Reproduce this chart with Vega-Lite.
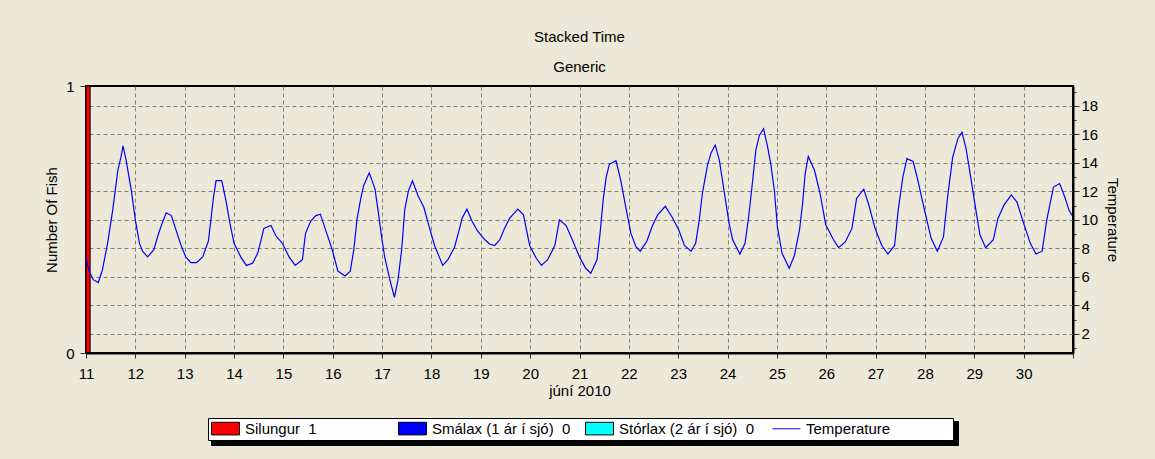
{
  "$schema": "https://vega.github.io/schema/vega-lite/v6.json",
  "width": 987,
  "height": 267,
  "autosize": {"type": "none"},
  "padding": {"left": 86, "top": 86, "right": 82, "bottom": 106},
  "background": "#ECE9D8",
  "title": {
    "text": "Stacked Time",
    "subtitle": "Generic",
    "anchor": "middle",
    "font": "Liberation Sans",
    "fontSize": 15,
    "fontWeight": "normal",
    "color": "black",
    "subtitleFont": "Liberation Sans",
    "subtitleFontSize": 15,
    "subtitleColor": "black",
    "subtitlePadding": 15,
    "offset": 4
  },
  "config": {
    "view": {"stroke": "black", "strokeWidth": 2, "fill": "#ECE9D8"},
    "font": "Liberation Sans",
    "axis": {
      "labelFont": "Liberation Sans",
      "labelFontSize": 15,
      "labelColor": "black",
      "titleFont": "Liberation Sans",
      "titleFontSize": 15,
      "titleFontWeight": "normal",
      "titleColor": "black",
      "domainColor": "black",
      "domainWidth": 2,
      "tickColor": "#333333",
      "gridColor": "#808080",
      "gridDash": [4, 3],
      "gridWidth": 1
    },
    "legend": {
      "orient": "none",
      "legendX": 122,
      "legendY": 332,
      "direction": "horizontal",
      "columns": 4,
      "gridAlign": "all",
      "fillColor": "white",
      "strokeColor": "black",
      "padding": 3,
      "columnPadding": 12,
      "labelFont": "Liberation Sans",
      "labelFontSize": 15,
      "labelColor": "black",
      "labelOffset": 19,
      "symbolSize": 196,
      "symbolStrokeWidth": 1,
      "symbolOpacity": 1
    }
  },
  "datasets": {
    "fish": [
      {"start": "2010-06-11T00:00", "end": "2010-06-11T02:00", "species": "Silungur", "count": 1},
      {"start": "2010-06-11T00:00", "end": "2010-06-11T02:00", "species": "Smálax (1 ár í sjó)", "count": 0},
      {"start": "2010-06-11T00:00", "end": "2010-06-11T02:00", "species": "Stórlax (2 ár í sjó)", "count": 0}
    ],
    "legendKeys": [
      {"series": "Silungur", "key": "Silungur"},
      {"series": "Smálax (1 ár í sjó)", "key": "Smálax (1 ár í sjó)"},
      {"series": "Stórlax (2 ár í sjó)", "key": "Stórlax (2 ár í sjó)"},
      {"series": "Temperature", "key": "Temperature"}
    ],
    "temp": [
      {"time": "2010-06-11T00:00", "temperature": 7.3},
      {"time": "2010-06-11T01:30", "temperature": 6.4},
      {"time": "2010-06-11T03:30", "temperature": 5.8},
      {"time": "2010-06-11T06:00", "temperature": 5.6},
      {"time": "2010-06-11T08:00", "temperature": 6.5},
      {"time": "2010-06-11T10:30", "temperature": 8.35},
      {"time": "2010-06-11T13:00", "temperature": 10.7},
      {"time": "2010-06-11T15:30", "temperature": 13.5},
      {"time": "2010-06-11T17:00", "temperature": 14.4},
      {"time": "2010-06-11T18:00", "temperature": 15.2},
      {"time": "2010-06-11T19:30", "temperature": 14.2},
      {"time": "2010-06-11T22:00", "temperature": 12.1},
      {"time": "2010-06-12T00:00", "temperature": 10.0},
      {"time": "2010-06-12T02:00", "temperature": 8.35},
      {"time": "2010-06-12T03:30", "temperature": 7.8},
      {"time": "2010-06-12T06:00", "temperature": 7.4},
      {"time": "2010-06-12T09:00", "temperature": 7.9},
      {"time": "2010-06-12T11:00", "temperature": 8.9},
      {"time": "2010-06-12T13:00", "temperature": 9.75},
      {"time": "2010-06-12T15:00", "temperature": 10.5},
      {"time": "2010-06-12T17:30", "temperature": 10.3},
      {"time": "2010-06-12T19:45", "temperature": 9.3},
      {"time": "2010-06-12T22:15", "temperature": 8.2},
      {"time": "2010-06-13T00:30", "temperature": 7.4},
      {"time": "2010-06-13T03:00", "temperature": 7.0},
      {"time": "2010-06-13T05:45", "temperature": 7.0},
      {"time": "2010-06-13T08:45", "temperature": 7.4},
      {"time": "2010-06-13T11:30", "temperature": 8.5},
      {"time": "2010-06-13T12:45", "temperature": 10.0},
      {"time": "2010-06-13T14:00", "temperature": 11.6},
      {"time": "2010-06-13T15:15", "temperature": 12.75},
      {"time": "2010-06-13T18:00", "temperature": 12.75},
      {"time": "2010-06-13T20:00", "temperature": 11.4},
      {"time": "2010-06-13T22:00", "temperature": 9.75},
      {"time": "2010-06-14T00:00", "temperature": 8.35},
      {"time": "2010-06-14T03:15", "temperature": 7.4},
      {"time": "2010-06-14T06:00", "temperature": 6.8},
      {"time": "2010-06-14T09:00", "temperature": 6.95},
      {"time": "2010-06-14T11:30", "temperature": 7.65},
      {"time": "2010-06-14T13:00", "temperature": 8.5},
      {"time": "2010-06-14T14:30", "temperature": 9.4},
      {"time": "2010-06-14T18:00", "temperature": 9.6},
      {"time": "2010-06-14T20:15", "temperature": 8.9},
      {"time": "2010-06-14T23:30", "temperature": 8.35},
      {"time": "2010-06-15T02:45", "temperature": 7.4},
      {"time": "2010-06-15T05:45", "temperature": 6.8},
      {"time": "2010-06-15T09:15", "temperature": 7.2},
      {"time": "2010-06-15T10:45", "temperature": 9.05},
      {"time": "2010-06-15T13:15", "temperature": 9.9},
      {"time": "2010-06-15T15:45", "temperature": 10.3},
      {"time": "2010-06-15T18:00", "temperature": 10.4},
      {"time": "2010-06-15T20:30", "temperature": 9.3},
      {"time": "2010-06-15T23:45", "temperature": 7.9},
      {"time": "2010-06-16T02:30", "temperature": 6.4},
      {"time": "2010-06-16T06:00", "temperature": 6.06},
      {"time": "2010-06-16T08:30", "temperature": 6.4},
      {"time": "2010-06-16T10:15", "temperature": 7.9},
      {"time": "2010-06-16T11:45", "temperature": 10.0},
      {"time": "2010-06-16T13:30", "temperature": 11.4},
      {"time": "2010-06-16T15:00", "temperature": 12.4},
      {"time": "2010-06-16T17:45", "temperature": 13.3},
      {"time": "2010-06-16T20:30", "temperature": 12.2},
      {"time": "2010-06-16T22:00", "temperature": 10.7},
      {"time": "2010-06-16T23:45", "temperature": 8.8},
      {"time": "2010-06-17T01:15", "temperature": 7.4},
      {"time": "2010-06-17T03:45", "temperature": 5.8},
      {"time": "2010-06-17T06:00", "temperature": 4.55},
      {"time": "2010-06-17T07:45", "temperature": 5.8},
      {"time": "2010-06-17T09:30", "temperature": 7.9},
      {"time": "2010-06-17T11:00", "temperature": 10.7},
      {"time": "2010-06-17T12:45", "temperature": 12.0},
      {"time": "2010-06-17T14:45", "temperature": 12.75},
      {"time": "2010-06-17T17:30", "temperature": 11.7},
      {"time": "2010-06-17T20:15", "temperature": 10.9},
      {"time": "2010-06-17T22:45", "temperature": 9.6},
      {"time": "2010-06-18T01:30", "temperature": 8.2},
      {"time": "2010-06-18T05:30", "temperature": 6.8},
      {"time": "2010-06-18T08:00", "temperature": 7.2},
      {"time": "2010-06-18T11:15", "temperature": 8.1},
      {"time": "2010-06-18T13:30", "temperature": 9.3},
      {"time": "2010-06-18T15:00", "temperature": 10.15},
      {"time": "2010-06-18T17:15", "temperature": 10.75},
      {"time": "2010-06-18T19:45", "temperature": 9.9},
      {"time": "2010-06-18T22:30", "temperature": 9.2},
      {"time": "2010-06-19T02:00", "temperature": 8.6},
      {"time": "2010-06-19T04:15", "temperature": 8.3},
      {"time": "2010-06-19T06:45", "temperature": 8.2},
      {"time": "2010-06-19T09:15", "temperature": 8.6},
      {"time": "2010-06-19T11:30", "temperature": 9.4},
      {"time": "2010-06-19T14:00", "temperature": 10.1},
      {"time": "2010-06-19T18:00", "temperature": 10.75},
      {"time": "2010-06-19T20:45", "temperature": 10.35},
      {"time": "2010-06-19T23:45", "temperature": 8.2},
      {"time": "2010-06-20T03:00", "temperature": 7.3},
      {"time": "2010-06-20T05:30", "temperature": 6.8},
      {"time": "2010-06-20T08:30", "temperature": 7.2},
      {"time": "2010-06-20T12:00", "temperature": 8.2},
      {"time": "2010-06-20T14:15", "temperature": 10.0},
      {"time": "2010-06-20T17:30", "temperature": 9.6},
      {"time": "2010-06-20T20:30", "temperature": 8.6},
      {"time": "2010-06-21T00:00", "temperature": 7.4},
      {"time": "2010-06-21T03:00", "temperature": 6.6},
      {"time": "2010-06-21T05:30", "temperature": 6.25},
      {"time": "2010-06-21T08:30", "temperature": 7.2},
      {"time": "2010-06-21T10:00", "temperature": 9.05},
      {"time": "2010-06-21T11:30", "temperature": 11.4},
      {"time": "2010-06-21T13:00", "temperature": 13.0},
      {"time": "2010-06-21T14:30", "temperature": 13.9},
      {"time": "2010-06-21T17:45", "temperature": 14.15},
      {"time": "2010-06-21T20:00", "temperature": 12.8},
      {"time": "2010-06-21T22:30", "temperature": 10.9},
      {"time": "2010-06-22T01:00", "temperature": 9.05},
      {"time": "2010-06-22T03:30", "temperature": 8.1},
      {"time": "2010-06-22T05:30", "temperature": 7.8},
      {"time": "2010-06-22T08:45", "temperature": 8.5},
      {"time": "2010-06-22T11:30", "temperature": 9.6},
      {"time": "2010-06-22T14:00", "temperature": 10.35},
      {"time": "2010-06-22T17:45", "temperature": 10.95},
      {"time": "2010-06-22T21:00", "temperature": 10.2},
      {"time": "2010-06-23T00:15", "temperature": 9.3},
      {"time": "2010-06-23T03:00", "temperature": 8.2},
      {"time": "2010-06-23T06:15", "temperature": 7.8},
      {"time": "2010-06-23T08:30", "temperature": 8.35},
      {"time": "2010-06-23T10:15", "temperature": 10.0},
      {"time": "2010-06-23T11:45", "temperature": 11.85},
      {"time": "2010-06-23T14:15", "temperature": 13.85},
      {"time": "2010-06-23T16:00", "temperature": 14.7},
      {"time": "2010-06-23T18:00", "temperature": 15.25},
      {"time": "2010-06-23T20:00", "temperature": 14.2},
      {"time": "2010-06-23T21:30", "temperature": 12.8},
      {"time": "2010-06-23T23:15", "temperature": 11.15},
      {"time": "2010-06-24T00:45", "temperature": 9.75},
      {"time": "2010-06-24T02:30", "temperature": 8.6},
      {"time": "2010-06-24T06:00", "temperature": 7.6},
      {"time": "2010-06-24T08:30", "temperature": 8.35},
      {"time": "2010-06-24T10:15", "temperature": 10.2},
      {"time": "2010-06-24T12:15", "temperature": 12.8},
      {"time": "2010-06-24T13:45", "temperature": 14.9},
      {"time": "2010-06-24T15:30", "temperature": 15.95},
      {"time": "2010-06-24T17:30", "temperature": 16.4},
      {"time": "2010-06-24T19:30", "temperature": 15.1},
      {"time": "2010-06-24T21:00", "temperature": 13.95},
      {"time": "2010-06-24T22:45", "temperature": 12.1},
      {"time": "2010-06-25T00:15", "temperature": 9.5},
      {"time": "2010-06-25T02:30", "temperature": 7.65},
      {"time": "2010-06-25T06:00", "temperature": 6.6},
      {"time": "2010-06-25T08:30", "temperature": 7.5},
      {"time": "2010-06-25T11:00", "temperature": 9.3},
      {"time": "2010-06-25T12:30", "temperature": 11.15},
      {"time": "2010-06-25T13:45", "temperature": 13.25},
      {"time": "2010-06-25T15:15", "temperature": 14.45},
      {"time": "2010-06-25T18:15", "temperature": 13.5},
      {"time": "2010-06-25T21:00", "temperature": 11.85},
      {"time": "2010-06-25T23:45", "temperature": 9.65},
      {"time": "2010-06-26T03:30", "temperature": 8.6},
      {"time": "2010-06-26T06:00", "temperature": 8.05},
      {"time": "2010-06-26T09:15", "temperature": 8.45},
      {"time": "2010-06-26T12:30", "temperature": 9.4},
      {"time": "2010-06-26T14:45", "temperature": 11.5},
      {"time": "2010-06-26T18:15", "temperature": 12.15},
      {"time": "2010-06-26T20:30", "temperature": 11.15},
      {"time": "2010-06-26T23:45", "temperature": 9.4},
      {"time": "2010-06-27T03:00", "temperature": 8.2},
      {"time": "2010-06-27T06:00", "temperature": 7.6},
      {"time": "2010-06-27T09:15", "temperature": 8.2},
      {"time": "2010-06-27T11:00", "temperature": 10.7},
      {"time": "2010-06-27T13:15", "temperature": 13.0},
      {"time": "2010-06-27T15:15", "temperature": 14.3},
      {"time": "2010-06-27T18:15", "temperature": 14.1},
      {"time": "2010-06-27T20:30", "temperature": 12.8},
      {"time": "2010-06-27T23:45", "temperature": 10.7},
      {"time": "2010-06-28T03:00", "temperature": 8.7},
      {"time": "2010-06-28T06:00", "temperature": 7.8},
      {"time": "2010-06-28T09:00", "temperature": 8.8},
      {"time": "2010-06-28T11:00", "temperature": 11.6},
      {"time": "2010-06-28T13:30", "temperature": 14.4},
      {"time": "2010-06-28T16:00", "temperature": 15.7},
      {"time": "2010-06-28T18:00", "temperature": 16.15},
      {"time": "2010-06-28T20:00", "temperature": 15.0},
      {"time": "2010-06-28T22:15", "temperature": 13.0},
      {"time": "2010-06-29T00:45", "temperature": 10.7},
      {"time": "2010-06-29T02:45", "temperature": 8.95},
      {"time": "2010-06-29T05:30", "temperature": 8.05},
      {"time": "2010-06-29T09:15", "temperature": 8.6},
      {"time": "2010-06-29T11:30", "temperature": 10.1},
      {"time": "2010-06-29T14:30", "temperature": 11.05},
      {"time": "2010-06-29T18:00", "temperature": 11.75},
      {"time": "2010-06-29T20:45", "temperature": 11.25},
      {"time": "2010-06-30T00:00", "temperature": 9.75},
      {"time": "2010-06-30T03:15", "temperature": 8.35},
      {"time": "2010-06-30T06:00", "temperature": 7.6},
      {"time": "2010-06-30T09:00", "temperature": 7.8},
      {"time": "2010-06-30T11:15", "temperature": 10.0},
      {"time": "2010-06-30T14:30", "temperature": 12.3},
      {"time": "2010-06-30T17:30", "temperature": 12.55},
      {"time": "2010-06-30T20:00", "temperature": 11.6},
      {"time": "2010-06-30T22:00", "temperature": 10.7},
      {"time": "2010-06-30T23:30", "temperature": 10.3}
    ]
  },
  "layer": [
    {
      "data": {"name": "fish"},
      "mark": {"type": "bar", "orient": "vertical", "fill": "#FF0000", "stroke": "black", "strokeWidth": 1},
      "encoding": {
        "x": {
          "field": "start",
          "type": "temporal",
          "scale": {"domain": [{"year": 2010, "month": 6, "date": 11}, {"year": 2010, "month": 7, "date": 1}], "padding": 0},
          "axis": {
            "title": "júní 2010",
            "format": "%-d",
            "tickCount": {"interval": "day", "step": 1},
            "labelExpr": "month(datum.value) == 6 ? '' : datum.label",
            "grid": true,
            "tickSize": 5,
            "labelPadding": 8,
            "titlePadding": 2,
            "labelAngle": 0,
            "labelFlush": false,
            "labelOverlap": false
          }
        },
        "x2": {"field": "end"},
        "y": {
          "field": "count",
          "type": "quantitative",
          "scale": {"domain": [0, 1], "nice": false, "padding": 0},
          "axis": {
            "orient": "left",
            "title": "Number Of Fish",
            "values": [0, 0.25, 0.5, 0.75, 1],
            "format": "d",
            "labelExpr": "datum.value == 0 || datum.value == 1 ? datum.label : ''",
            "tickSize": {"condition": {"test": "datum.value == 0 || datum.value == 1", "value": 6}, "value": 3},
            "domain": false,
            "grid": false,
            "labelPadding": 6,
            "titlePadding": 6
          }
        },
        "y2": {"datum": 0}
      }
    },
    {
      "data": {"name": "temp"},
      "mark": {"type": "line", "color": "#0000FF", "strokeWidth": 1.2},
      "encoding": {
        "x": {"field": "time", "type": "temporal"},
        "y": {
          "field": "temperature",
          "type": "quantitative",
          "scale": {"domain": [0.65, 19.4], "nice": false, "zero": false},
          "axis": {
            "orient": "right",
            "title": "Temperature",
            "titleAngle": 90,
            "values": [1, 1.5, 2, 2.5, 3, 3.5, 4, 4.5, 5, 5.5, 6, 6.5, 7, 7.5, 8, 8.5, 9, 9.5, 10, 10.5, 11, 11.5, 12, 12.5, 13, 13.5, 14, 14.5, 15, 15.5, 16, 16.5, 17, 17.5, 18, 18.5, 19],
            "format": "d",
            "labelExpr": "datum.value % 2 == 0 ? datum.label : ''",
            "grid": true,
            "gridOpacity": {"condition": {"test": "datum.value % 2 == 0", "value": 1}, "value": 0},
            "tickSize": {"condition": {"test": "datum.value % 2 == 0", "value": 6}, "value": 3},
            "labelPadding": 2,
            "titlePadding": 7
          }
        }
      }
    },
    {
      "data": {"name": "legendKeys"},
      "mark": {"type": "point", "filled": true, "opacity": 0},
      "encoding": {
        "x": {"datum": {"year": 2010, "month": 6, "date": 11}, "type": "temporal"},
        "y": {"datum": 0, "type": "quantitative", "axis": null, "scale": {"domain": [0, 1]}},
        "color": {
          "field": "series",
          "type": "nominal",
          "scale": {"domain": ["Silungur", "Smálax (1 ár í sjó)", "Stórlax (2 ár í sjó)", "Temperature"], "range": ["#FF0000", "#0000FF", "#00FFFF", "#0000FF"]},
          "legend": {"title": "\u00a0", "titleOrient": "right", "titlePadding": 60, "zindex": 2, "symbolOpacity": 1, "labelExpr": "datum.label == 'Silungur' ? 'Silungur\u00a0\u00a01' : datum.label == 'Temperature' ? 'Temperature' : datum.label + '\u00a0\u00a00'"}
        },
        "shape": {
          "field": "series",
          "type": "nominal",
          "scale": {"domain": ["Silungur", "Smálax (1 ár í sjó)", "Stórlax (2 ár í sjó)", "Temperature"], "range": ["M-1,-0.9H3V0.9H-1Z", "M-1,-0.9H3V0.9H-1Z", "M-1,-0.9H3V0.9H-1Z", "M-1,0H3"]},
          "legend": {"title": "\u00a0", "titleOrient": "right", "titlePadding": 60, "zindex": 2, "symbolOpacity": 1, "labelExpr": "datum.label == 'Silungur' ? 'Silungur\u00a0\u00a01' : datum.label == 'Temperature' ? 'Temperature' : datum.label + '\u00a0\u00a00'"}
        },
        "stroke": {
          "field": "series",
          "type": "nominal",
          "scale": {"domain": ["Silungur", "Smálax (1 ár í sjó)", "Stórlax (2 ár í sjó)", "Temperature"], "range": ["black", "black", "black", "#0000FF"]},
          "legend": {"title": "\u00a0", "titleOrient": "right", "titlePadding": 60, "zindex": 2, "symbolOpacity": 1, "labelExpr": "datum.label == 'Silungur' ? 'Silungur\u00a0\u00a01' : datum.label == 'Temperature' ? 'Temperature' : datum.label + '\u00a0\u00a00'"}
        },
        "strokeDash": {
          "field": "key",
          "type": "nominal",
          "legend": {"title": "\u00a0", "titleOrient": "right", "titlePadding": 633, "zindex": 1, "orient": "none", "legendX": 125, "legendY": 335, "fillColor": "black", "strokeColor": "black", "labelExpr": "''", "labelOffset": 0, "symbolSize": 289, "symbolOpacity": 0}
        }
      }
    }
  ],
  "resolve": {"scale": {"y": "independent"}}
}
